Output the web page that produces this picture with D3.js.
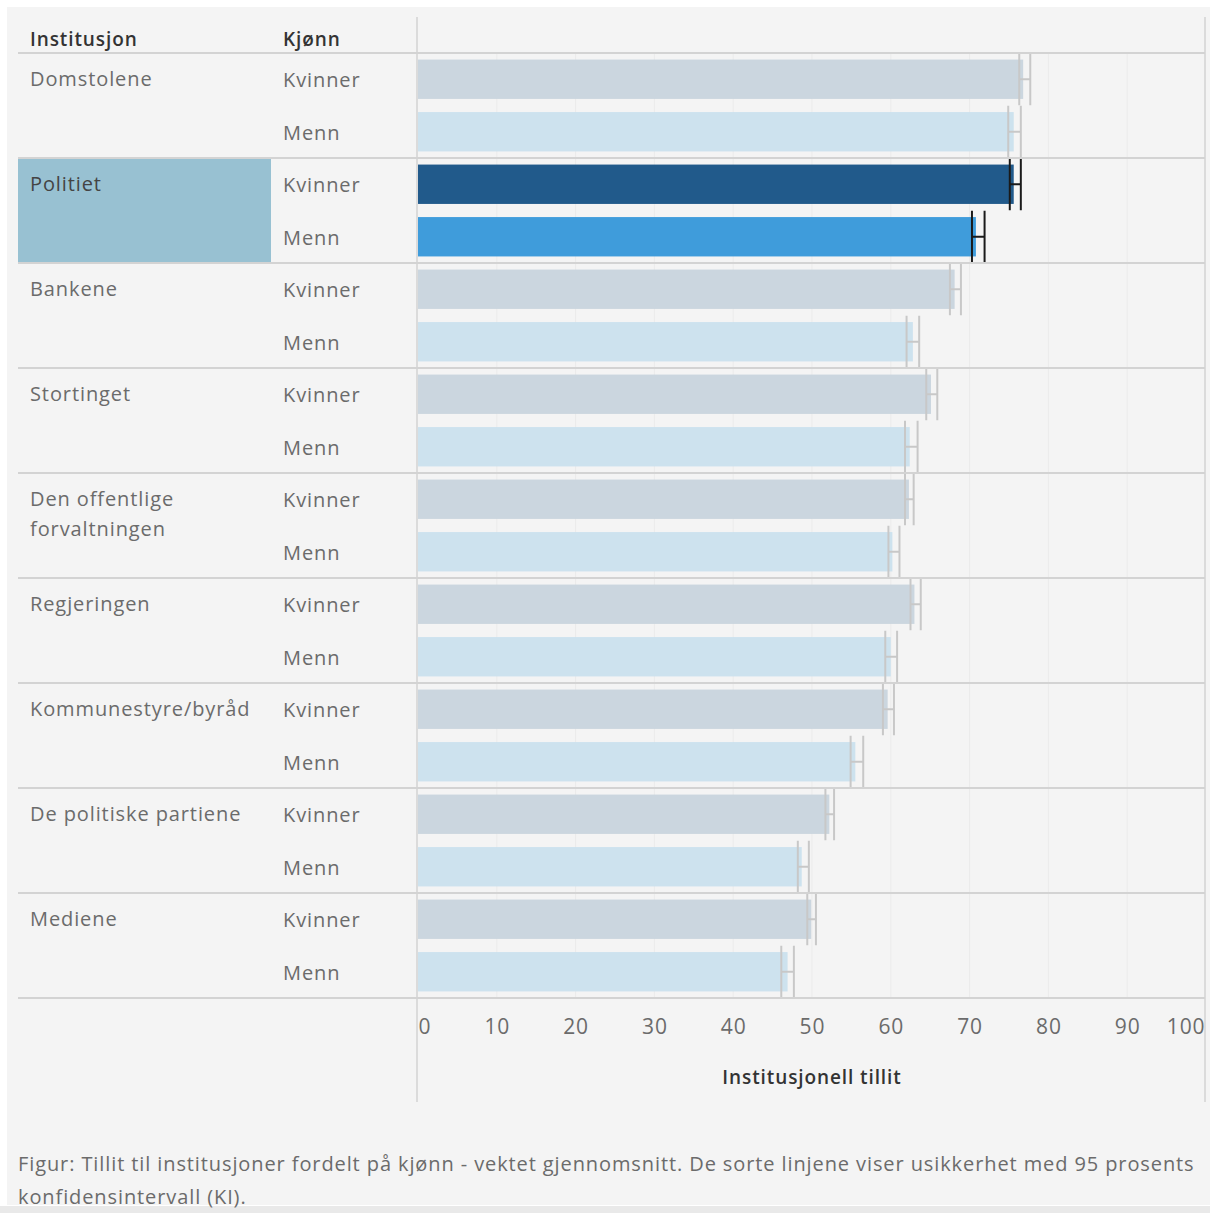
<!DOCTYPE html>
<html>
<head>
<meta charset="utf-8">
<script src="https://cdn.jsdelivr.net/npm/d3@7"></script>
<style>
  body { margin: 0; background: #fff; }
  text { font-family: "Open Sans", sans-serif; letter-spacing: 0.9px; }
</style>
</head>
<body>
<svg id="chart"></svg>
<script>
var width = 1210
var height = 1213

// data
var institutions = ["Domstolene", "Politiet", "Bankene", "Stortinget", "Den offentlige forvaltningen",
                    "Regjeringen", "Kommunestyre/byråd", "De politiske partiene", "Mediene"];
var labelLines = [["Domstolene"], ["Politiet"], ["Bankene"], ["Stortinget"], ["Den offentlige", "forvaltningen"],
                  ["Regjeringen"], ["Kommunestyre/byråd"], ["De politiske partiene"], ["Mediene"]];
var genders = ["Kvinner", "Menn"];
var kvinner = [76.8, 75.6, 68.1, 65.1, 62.3, 63.0, 59.6, 52.2, 49.9];
var kvinnerLo = [76.3, 75.1, 67.5, 64.5, 61.8, 62.5, 59.0, 51.7, 49.4];
var kvinnerHi = [77.7, 76.5, 68.9, 65.9, 62.9, 63.8, 60.4, 52.8, 50.5];
var menn = [75.6, 70.8, 62.8, 62.4, 60.2, 60.0, 55.5, 48.7, 46.9];
var mennLo = [74.9, 70.3, 62.0, 61.8, 59.7, 59.3, 54.9, 48.2, 46.1];
var mennHi = [76.5, 71.9, 63.6, 63.4, 61.1, 60.8, 56.5, 49.6, 47.7];
var ticks = [0, 10, 20, 30, 40, 50, 60, 70, 80, 90, 100];
var highlight = "Politiet";
var caption = ["Figur: Tillit til institusjoner fordelt på kjønn - vektet gjennomsnitt. De sorte linjene viser usikkerhet med 95 prosents",
               "konfidensintervall (KI)."];

var rows = [];
institutions.forEach(function(inst, i) {
    rows.push({ inst: inst, g: "Kvinner", v: kvinner[i], lo: kvinnerLo[i], hi: kvinnerHi[i] });
    rows.push({ inst: inst, g: "Menn", v: menn[i], lo: mennLo[i], hi: mennHi[i] });
});

var svg = d3.select("#chart")
.attr("width", width)
.attr("height", height);

svg.append("rect").attr("width", width).attr("height", height).attr("fill", "#fff");
svg.append("rect").attr("x", 7).attr("y", 7).attr("width", width - 7).attr("height", 1198).attr("fill", "#f4f4f4");
svg.append("rect").attr("x", 0).attr("y", 1206).attr("width", width).attr("height", 7).attr("fill", "#e9e9e9");

var x = d3.scaleLinear().domain([0, 100]).range([418, 1206]);
var y = d3.scaleBand().domain(institutions).range([53, 998]);
var yg = d3.scaleBand().domain(genders).range([0, y.bandwidth()]).paddingInner(0.25).paddingOuter(0.125);

// highlighted cell
svg.append("rect")
.attr("x", 18).attr("y", y(highlight))
.attr("width", 253).attr("height", y.bandwidth())
.attr("fill", "#98c1d2");

// faint gridlines
svg.selectAll("line.grid")
.data(ticks.slice(1, -1))
.enter()
.append("line")
.attr("class", "grid")
.attr("x1", function(d) { return x(d); })
.attr("x2", function(d) { return x(d); })
.attr("y1", 53).attr("y2", 998)
.attr("stroke", "#ebebeb")
.attr("stroke-width", 1);

function barColor(d) {
    if (d.inst == highlight) return d.g == "Kvinner" ? "#215a8b" : "#3f9cdb";
    return d.g == "Kvinner" ? "#cbd6df" : "#cde2ee";
}

svg.selectAll("rect.bar")
.data(rows)
.enter()
.append("rect")
.attr("class", "bar")
.attr("x", x(0))
.attr("y", function(d) { return y(d.inst) + yg(d.g); })
.attr("width", function(d) { return x(d.v) - x(0); })
.attr("height", yg.bandwidth())
.attr("fill", barColor);

// error bars
var eb = svg.selectAll("g.err")
.data(rows)
.enter()
.append("g")
.attr("class", "err")
.attr("stroke", function(d) { return d.inst == highlight ? "#1a1a1a" : "#c8c8c8"; })
.attr("stroke-width", 2);

function cy(d) { return y(d.inst) + yg(d.g) + yg.bandwidth() / 2; }

eb.append("line")
.attr("x1", function(d) { return x(d.lo); })
.attr("x2", function(d) { return x(d.hi); })
.attr("y1", cy).attr("y2", cy);
eb.append("line")
.attr("x1", function(d) { return x(d.lo); })
.attr("x2", function(d) { return x(d.lo); })
.attr("y1", function(d) { return cy(d) - 26; })
.attr("y2", function(d) { return cy(d) + 26; });
eb.append("line")
.attr("x1", function(d) { return x(d.hi); })
.attr("x2", function(d) { return x(d.hi); })
.attr("y1", function(d) { return cy(d) - 26; })
.attr("y2", function(d) { return cy(d) + 26; });

// row separators
svg.selectAll("line.sep")
.data(institutions.map(function(d) { return y(d); }).concat([998]))
.enter()
.append("line")
.attr("class", "sep")
.attr("x1", 18).attr("x2", 1205)
.attr("y1", function(d) { return d; })
.attr("y2", function(d) { return d; })
.attr("stroke", "#d3d3d3")
.attr("stroke-width", 2);

svg.append("line").attr("x1", 417).attr("x2", 417).attr("y1", 17).attr("y2", 1102)
.attr("stroke", "#d3d3d3").attr("stroke-width", 1.5);
svg.append("line").attr("x1", 1205).attr("x2", 1205).attr("y1", 17).attr("y2", 1102)
.attr("stroke", "#d3d3d3").attr("stroke-width", 1.5);

// headers
svg.append("text").attr("x", 30).attr("y", 46).text("Institusjon")
.attr("font-size", 19).attr("font-weight", 600).attr("letter-spacing", "1.2px").attr("fill", "#333");
svg.append("text").attr("x", 283).attr("y", 46).text("Kjønn")
.attr("font-size", 19).attr("font-weight", 600).attr("letter-spacing", "1.2px").attr("fill", "#333");

// institution labels
svg.selectAll("text.inst")
.data(institutions)
.enter()
.append("text")
.attr("class", "inst")
.attr("x", 30)
.attr("y", function(d) { return y(d) + 33; })
.attr("font-size", 20)
.attr("fill", function(d) { return d == highlight ? "#444" : "#6b6b6b"; })
.each(function(d, i) {
    d3.select(this).selectAll("tspan")
    .data(labelLines[i])
    .enter()
    .append("tspan")
    .attr("x", 30)
    .attr("dy", function(t, j) { return j == 0 ? 0 : 30; })
    .text(function(t) { return t; });
});

// gender labels
svg.selectAll("text.gender")
.data(rows)
.enter()
.append("text")
.attr("class", "gender")
.attr("x", 283)
.attr("y", function(d) { return cy(d) + 8; })
.attr("font-size", 20)
.attr("fill", "#6b6b6b")
.text(function(d) { return d.g; });

// x axis
var axis = svg.append("g")
.attr("transform", "translate(0,1000)")
.call(d3.axisBottom(x).tickValues(ticks).tickSize(0).tickPadding(0));
axis.select(".domain").remove();
axis.selectAll("text")
.attr("y", 34)
.attr("dy", 0)
.attr("font-size", 21)
.attr("font-family", "'Open Sans', sans-serif")
.attr("letter-spacing", "1px")
.attr("fill", "#6b6b6b")
.attr("text-anchor", function(d) { return d == 0 ? "start" : (d == 100 ? "end" : "middle"); })
.attr("dx", function(d) { return d == 0 ? 0 : (d == 100 ? -1 : 0); });

svg.append("text")
.attr("x", (x(0) + x(100)) / 2)
.attr("y", 1084)
.attr("text-anchor", "middle")
.attr("font-size", 19)
.attr("font-weight", 600)
.attr("letter-spacing", "1.2px")
.attr("fill", "#333")
.text("Institusjonell tillit");

// caption
svg.selectAll("text.cap")
.data(caption)
.enter()
.append("text")
.attr("class", "cap")
.attr("x", 18)
.attr("y", function(d, i) { return 1171 + i * 33; })
.attr("font-size", 20)
.attr("fill", "#6b6b6b")
.text(function(d) { return d; });
</script>
</body>
</html>
